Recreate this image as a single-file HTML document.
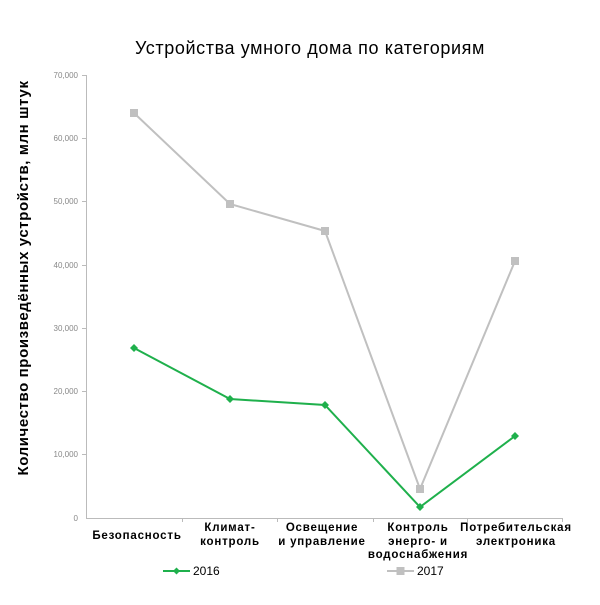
<!DOCTYPE html>
<html><head><meta charset="utf-8"><style>body{margin:0;background:#fff}</style></head><body>
<svg width="600" height="600" xmlns="http://www.w3.org/2000/svg" font-family="Liberation Sans, DejaVu Sans, sans-serif">
<rect width="600" height="600" fill="#fff"/>
<text x="310" y="54" text-anchor="middle" font-size="18" letter-spacing="0.6" fill="#000">Устройства умного дома по категориям</text>
<text transform="translate(28,278) rotate(-90)" text-anchor="middle" font-size="15" font-weight="bold" letter-spacing="0.6" fill="#000">Количество произведённых устройств, млн штук</text>
<g stroke="#bbb" stroke-width="1">
<line x1="86.5" y1="75" x2="86.5" y2="518"/>
<line x1="86" y1="518.5" x2="563" y2="518.5"/>
<line x1="82" y1="75.5" x2="86" y2="75.5"/><line x1="82" y1="138.5" x2="86" y2="138.5"/><line x1="82" y1="201.5" x2="86" y2="201.5"/><line x1="82" y1="265.5" x2="86" y2="265.5"/><line x1="82" y1="328.5" x2="86" y2="328.5"/><line x1="82" y1="391.5" x2="86" y2="391.5"/><line x1="82" y1="454.5" x2="86" y2="454.5"/>
<line x1="182.5" y1="518" x2="182.5" y2="522"/><line x1="277.5" y1="518" x2="277.5" y2="522"/><line x1="373.5" y1="518" x2="373.5" y2="522"/><line x1="467.5" y1="518" x2="467.5" y2="522"/><line x1="562.5" y1="518" x2="562.5" y2="522"/>
</g>
<g font-size="8" fill="#888" text-anchor="end">
<text x="78" y="78">70,000</text><text x="78" y="141">60,000</text><text x="78" y="204">50,000</text><text x="78" y="268">40,000</text><text x="78" y="331">30,000</text><text x="78" y="394">20,000</text><text x="78" y="457">10,000</text><text x="78" y="521">0</text>
</g>
<g font-size="11.5" font-weight="bold" fill="#000" text-anchor="middle" letter-spacing="0.8">
<text x="137" y="539">Безопасность</text>
<text x="230" y="531">Климат-</text><text x="230" y="545">контроль</text>
<text x="322" y="531">Освещение</text><text x="322" y="545">и управление</text>
<text x="418" y="531">Контроль</text><text x="418" y="545">энерго- и</text><text x="418" y="558">водоснабжения</text>
<text x="516" y="531">Потребительская</text><text x="516" y="545">электроника</text>
</g>
<polyline points="134,113 230,204 325,231 420,489 515,261" fill="none" stroke="#c0c0c0" stroke-width="2"/>
<g fill="#c0c0c0"><rect x="130" y="109" width="8" height="8"/><rect x="226" y="200" width="8" height="8"/><rect x="321" y="227" width="8" height="8"/><rect x="416" y="485" width="8" height="8"/><rect x="511" y="257" width="8" height="8"/></g>
<polyline points="134,348 230,399 325,405 420,507 515,436" fill="none" stroke="#1fb04c" stroke-width="2"/>
<g fill="#1fb04c"><path d="M134,344 l4,4 l-4,4 l-4,-4z"/><path d="M230,395 l4,4 l-4,4 l-4,-4z"/><path d="M325,401 l4,4 l-4,4 l-4,-4z"/><path d="M420,503 l4,4 l-4,4 l-4,-4z"/><path d="M515,432 l4,4 l-4,4 l-4,-4z"/></g>
<line x1="163" y1="571" x2="190" y2="571" stroke="#1fb04c" stroke-width="2"/><path d="M176.5,567.5 l3.5,3.5 l-3.5,3.5 l-3.5,-3.5z" fill="#1fb04c"/>
<text x="193" y="575" font-size="12" fill="#000">2016</text>
<line x1="387" y1="571" x2="414" y2="571" stroke="#c0c0c0" stroke-width="2"/><rect x="396.5" y="567" width="8" height="8" fill="#c0c0c0"/>
<text x="417" y="575" font-size="12" fill="#000">2017</text>
</svg>
</body></html>
